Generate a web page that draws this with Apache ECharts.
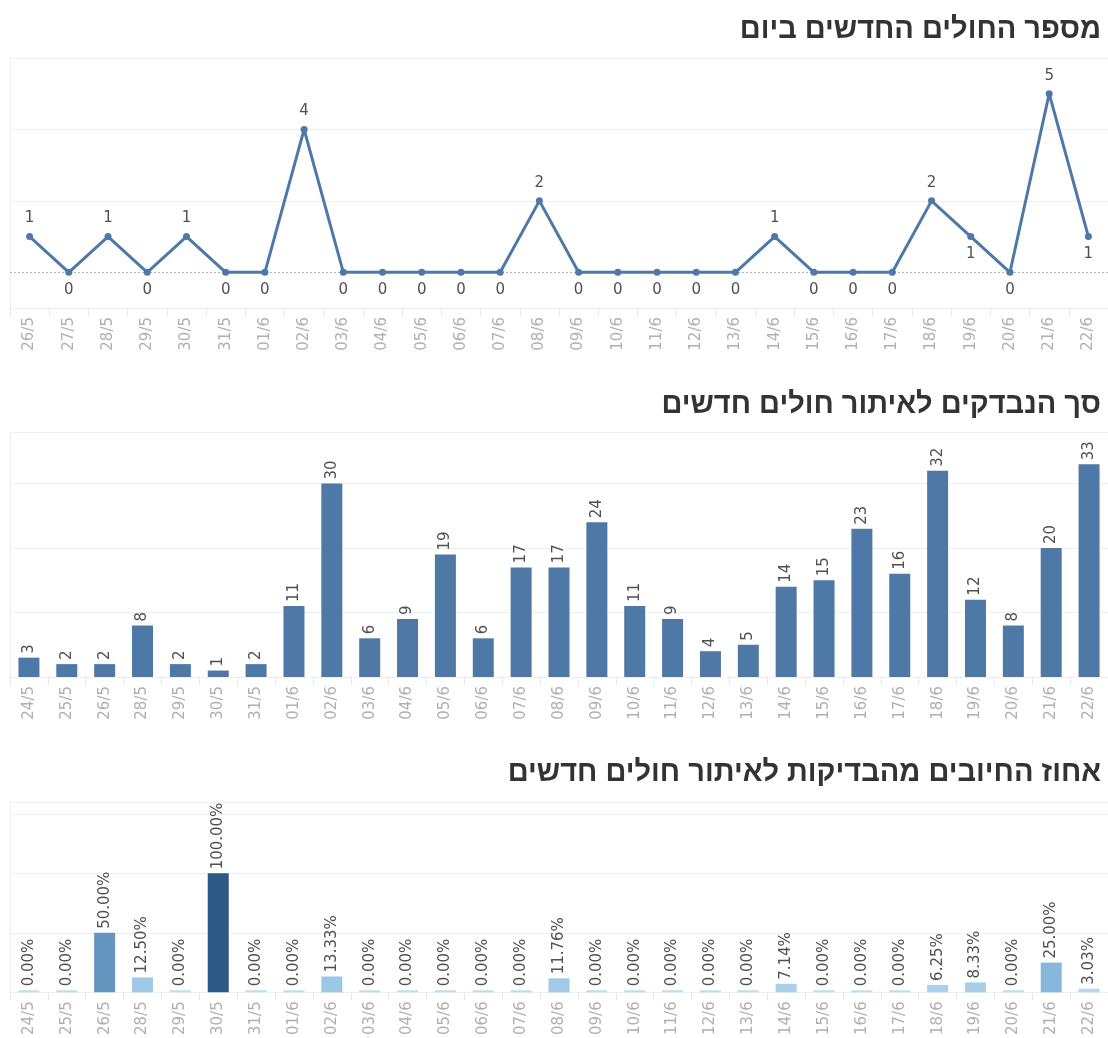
<!DOCTYPE html>
<html>
<head>
<meta charset="utf-8">
<script src="https://cdn.jsdelivr.net/npm/echarts@6/dist/echarts.min.js"></script>
<style>
  html, body { margin: 0; padding: 0; background: #fff; }
  #main { width: 1108px; height: 1038px; }
</style>
</head>
<body>
<div id="main"></div>
<script>
    // daily new patients
    const casesDays = ['26/5', '27/5', '28/5', '29/5', '30/5', '31/5', '01/6', '02/6', '03/6', '04/6', '05/6', '06/6', '07/6', '08/6',
        '09/6', '10/6', '11/6', '12/6', '13/6', '14/6', '15/6', '16/6', '17/6', '18/6', '19/6', '20/6', '21/6', '22/6'];
    const casesValues = [1, 0, 1, 0, 1, 0, 0, 4, 0, 0, 0, 0, 0, 2, 0, 0, 0, 0, 0, 1, 0, 0, 0, 2, 1, 0, 5, 1];
    const casesLabelBelow = ['19/6', '22/6'];

    // tests and positive share
    const testDays = ['24/5', '25/5', '26/5', '28/5', '29/5', '30/5', '31/5', '01/6', '02/6', '03/6', '04/6', '05/6', '06/6', '07/6', '08/6',
        '09/6', '10/6', '11/6', '12/6', '13/6', '14/6', '15/6', '16/6', '17/6', '18/6', '19/6', '20/6', '21/6', '22/6'];
    const testValues = [3, 2, 2, 8, 2, 1, 2, 11, 30, 6, 9, 19, 6, 17, 17, 24, 11, 9, 4, 5, 14, 15, 23, 16, 32, 12, 8, 20, 33];
    const positivePct = [0, 0, 50, 12.5, 0, 100, 0, 0, 13.33, 0, 0, 0, 0, 0, 11.76, 0, 0, 0, 0, 0, 7.14, 0, 0, 0, 6.25, 8.33, 0, 25, 3.03];

    const titles = ['מספר החולים החדשים ביום', 'סך הנבדקים לאיתור חולים חדשים', 'אחוז החיובים מהבדיקות לאיתור חולים חדשים'];

    const blue = '#4e79a7';
    const gridLine = '#efefef';
    const fontFam = "'DejaVu Sans', 'Liberation Sans', sans-serif";
    const titleFam = "'Liberation Sans', sans-serif";

    // sequential blue for the percent bars
    const pctStops = [[0, '#b9ddf1'], [10, '#a3cce9'], [25, '#88b7dc'], [50, '#6596c0'], [100, '#2c5985']];
    function hex(c) { return [1, 3, 5].map(i => parseInt(c.substr(i, 2), 16)); }
    function pctColor(v) {
        for (let i = 1; i < pctStops.length; i++) {
            if (v <= pctStops[i][0]) {
                const [v0, c0] = pctStops[i - 1], [v1, c1] = pctStops[i];
                const t = (v - v0) / (v1 - v0);
                const a = hex(c0), b = hex(c1);
                return 'rgb(' + a.map((x, k) => Math.round(x + (b[k] - x) * t)).join(',') + ')';
            }
        }
        return pctStops[pctStops.length - 1][1];
    }

    function catAxis(idx, data) {
        return {
            type: 'category',
            gridIndex: idx,
            data: data,
            boundaryGap: true,
            axisLine: {show: true, onZero: false, lineStyle: {color: gridLine}},
            axisTick: {show: true, interval: 0, length: 8, lineStyle: {color: '#e8e8e8'}},
            axisLabel: {
                interval: 0, rotate: 90, color: '#b0b0b0', fontSize: 15, fontFamily: fontFam, margin: 9
            }
        };
    }

    const chart = echarts.init(document.getElementById('main'));

    const option = {
        animation: false,
        backgroundColor: '#fff',
        title: titles.map((t, i) => ({
            text: t,
            right: 2,
            top: [10, 385, 753][i],
            textStyle: {fontSize: 29, fontWeight: 'bold', color: '#333', fontFamily: titleFam}
        })),
        grid: [
            {left: 10, top: 58, width: 1102, height: 250},
            {left: 10, top: 432, width: 1102, height: 245},
            {left: 10, top: 802, width: 1102, height: 192}
        ],
        xAxis: [catAxis(0, casesDays), catAxis(1, testDays), catAxis(2, testDays)],
        yAxis: [
            {
                type: 'value', gridIndex: 0, min: -1, max: 6, interval: 1,
                axisLabel: {show: false}, axisTick: {show: false},
                axisLine: {show: true, lineStyle: {color: gridLine}},
                splitLine: {
                    show: true,
                    lineStyle: {color: ['transparent', 'transparent', 'transparent', gridLine, 'transparent', gridLine, 'transparent', gridLine]}
                }
            },
            {
                type: 'value', gridIndex: 1, min: 0, max: 38, interval: 10,
                axisLabel: {show: false}, axisTick: {show: false},
                axisLine: {show: true, lineStyle: {color: gridLine}},
                splitLine: {lineStyle: {color: gridLine}}
            },
            {
                type: 'value', gridIndex: 2, min: 0, max: 160, interval: 50,
                axisLabel: {show: false}, axisTick: {show: false},
                axisLine: {show: true, lineStyle: {color: gridLine}},
                splitLine: {lineStyle: {color: gridLine}}
            }
        ],
        series: [
            {
                name: 'cases',
                type: 'line',
                xAxisIndex: 0, yAxisIndex: 0,
                data: casesValues.map((v, i) => ({
                    value: v,
                    label: {position: (v === 0 || casesLabelBelow.includes(casesDays[i])) ? 'bottom' : 'top'}
                })),
                symbol: 'circle',
                symbolSize: 7,
                lineStyle: {color: blue, width: 3},
                itemStyle: {color: blue},
                label: {show: true, color: '#505050', fontSize: 15, fontFamily: fontFam, distance: 7},
                markLine: {
                    silent: true, symbol: 'none', label: {show: false},
                    lineStyle: {color: '#b5b5b5', type: [2, 2], width: 1},
                    data: [{yAxis: 0}]
                },
                z: 5
            },
            {
                name: 'tests',
                type: 'bar',
                xAxisIndex: 1, yAxisIndex: 1,
                data: testValues,
                barWidth: 21,
                itemStyle: {color: blue},
                label: {
                    show: true, position: 'top', rotate: 90, align: 'left', verticalAlign: 'middle',
                    distance: 4, color: '#505050', fontSize: 15, fontFamily: fontFam
                }
            },
            {
                name: 'positive',
                type: 'bar',
                xAxisIndex: 2, yAxisIndex: 2,
                data: positivePct.map(v => ({value: v, itemStyle: {color: pctColor(v)}})),
                barWidth: 21,
                barMinHeight: 2,
                label: {
                    show: true, position: 'top', rotate: 90, align: 'left', verticalAlign: 'middle',
                    distance: 4, color: '#505050', fontSize: 15, fontFamily: fontFam,
                    formatter: p => p.value.toFixed(2) + '%'
                }
            }
        ]
    };

    chart.setOption(option);
</script>
</body>
</html>
